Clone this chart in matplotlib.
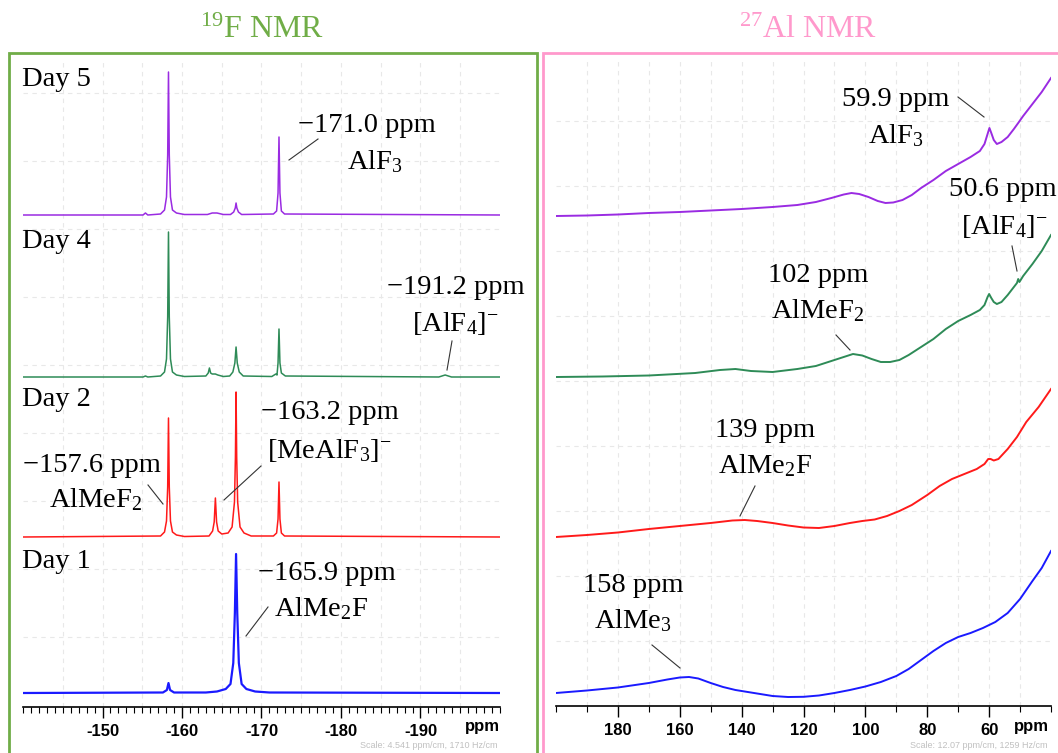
import matplotlib.pyplot as plt
from matplotlib.lines import Line2D
from matplotlib.patches import Rectangle
from matplotlib.ticker import MultipleLocator

plt.rcParams['font.family'] = ['Liberation Serif', 'DejaVu Serif']
plt.rcParams['mathtext.fontset'] = 'custom'
plt.rcParams['mathtext.rm'] = 'Liberation Serif'
plt.rcParams['mathtext.it'] = 'Liberation Serif:italic'
plt.rcParams['axes.unicode_minus'] = False

# ---- 19F spectra (ppm, intensity above each trace's baseline) ----
f_day5_ppm = [-140, -155.1, -155.4, -155.7, -157.3, -157.8, -158.05, -158.2, -158.3, -158.4, -158.55,
              -158.8, -159.3, -160.3, -163.2, -163.8, -164.4, -165.2, -166.1, -166.5, -166.7, -166.8,
              -166.9, -167.1, -167.5, -171.5, -171.9, -172.08, -172.2, -172.32, -172.5, -172.9, -200]
f_day5_int = [0, 0, 2, 0, 1, 5, 18, 60, 143, 60, 18,
              5, 2, 0.5, 0.5, 2, 2, 0.5, 0.5, 3, 7, 12,
              7, 3, 0.5, 1, 4, 22, 78, 22, 4, 1, 0]

f_day4_ppm = [-140, -155.1, -155.4, -155.7, -157.3, -157.8, -158.05, -158.2, -158.3, -158.4, -158.55,
              -158.8, -159.3, -160.3, -163.0, -163.3, -163.45, -163.6, -163.8, -164.2, -164.5, -165.2,
              -166.0, -166.4, -166.65, -166.8, -166.95, -167.2, -167.7, -171.3, -171.6, -171.8,
              -171.95, -172.08, -172.2, -172.32, -172.5, -173.0, -192.3, -193.1, -193.9, -200]
f_day4_int = [0, 0, 1, 0, 1, 5, 18, 60, 145, 60, 18,
              5, 2, 0.5, 1, 4, 9, 4, 3, 3, 2, 0.5,
              1, 5, 14, 30, 14, 5, 1, 0.5, 2, 3,
              2, 14, 48, 14, 4, 1, 0, 2, 0, 0]

f_day2_ppm = [-140, -157.3, -157.8, -158.05, -158.2, -158.3, -158.4, -158.55, -158.8, -159.3, -160.3,
              -163.4, -163.85, -164.05, -164.2, -164.35, -164.55, -165.0, -165.8, -166.3, -166.6,
              -166.72, -166.8, -166.88, -167.0, -167.3, -167.8, -168.7, -171.5, -171.9, -172.08,
              -172.2, -172.32, -172.5, -172.9, -200]
f_day2_int = [0, 1, 5, 16, 50, 119, 50, 16, 5, 2, 0.5,
              1, 6, 15, 39, 15, 6, 3, 4, 10, 35,
              80, 145, 80, 35, 10, 4, 1, 1, 4, 18,
              55, 18, 4, 1, 0]

f_day1_ppm = [-140, -157.6, -158.1, -158.3, -158.5, -159.0, -163.0, -164.4, -165.5, -166.1, -166.45,
              -166.65, -166.8, -166.95, -167.15, -167.5, -168.1, -169.2, -171.0, -200]
f_day1_int = [0, 0.5, 3, 10, 3, 0.5, 0.5, 1.5, 4, 9, 30,
              80, 139, 80, 30, 9, 4, 1.5, 0.5, 0]

# ---- 27Al spectra ----
al_day5_ppm = [200, 190, 180, 170, 160, 150, 140, 130, 122, 116, 111, 107, 104.5, 102, 99, 96, 93.5,
               91, 88, 85, 82, 78, 74, 70, 66, 63, 61.5, 60.5, 59.9, 59.3, 58.5, 57.5, 56, 54, 52,
               50.6, 49, 46, 43, 40]
al_day5_int = [0, 0.5, 1.5, 3, 4, 5.5, 7, 9, 11, 14, 18, 21.5, 23, 22, 19, 15, 13,
               13.5, 16, 21, 28, 36, 45, 52, 59, 65, 72, 82, 88, 83, 76, 72, 74, 79, 87,
               93, 100, 112, 124, 138]

al_day4_ppm = [200, 185, 170, 155, 147, 142, 137, 130, 122, 116, 111, 107, 104, 101, 98, 95, 92, 89,
               86, 82, 78, 74, 70, 66, 63, 61.5, 60.5, 60, 59.3, 58.5, 57.5, 56, 54, 52, 51, 50.6,
               50.2, 49, 46, 43, 40]
al_day4_int = [0, 0.5, 1.5, 4, 7, 8, 6, 5, 8, 11, 16, 20, 23, 21.5, 18, 15, 15, 17,
               22, 30, 38, 48, 56, 62, 67, 72, 80, 83, 79, 75, 73, 75, 82, 90, 94, 98,
               95, 101, 113, 126, 142]

al_day2_ppm = [200, 190, 180, 170, 160, 150, 143, 139, 135, 130, 125, 120, 115, 110, 105, 101, 97,
               93, 89, 85, 80, 76, 72, 68, 64, 61.5, 60.3, 59.5, 58.5, 57, 54, 51, 48, 44, 40]
al_day2_int = [0, 2, 4.5, 8, 11, 14, 16.5, 17, 16, 14, 11.5, 9.5, 9, 11, 14, 16, 17.5,
               21, 26, 32, 42, 51, 58, 63, 68, 73, 78, 78, 76.5, 78, 88, 100, 115, 130, 148]

al_day1_ppm = [200, 190, 180, 170, 164, 160, 157, 154, 150, 146, 142, 137, 130, 125, 120, 115, 110,
               105, 100, 95, 90, 86, 82, 78, 74, 70, 66, 62, 58, 54, 50, 46, 43, 40]
al_day1_int = [0, 2.5, 5.5, 10, 13.5, 15.5, 16, 14.5, 10, 6, 3, 0.5, -3, -4, -3.8, -2.5, 0,
               3, 6.5, 11, 17, 24, 33, 42, 50, 56, 60, 65, 71, 80, 94, 112, 125, 142]

day_labels = ['Day 5', 'Day 4', 'Day 2', 'Day 1']
colors = ['#9a2be2', '#2e8b57', '#ff1a1a', '#1a1aff']

W, H = 1058, 753
fig = plt.figure(figsize=(W / 100, H / 100), dpi=100)


def fx(x, y):
    return x / W, 1 - y / H


def note(x, y, s, size=20.5):
    fig.text(*fx(x, y), s, fontsize=size, ha='center', va='center')


def seg(x0, y0, x1, y1):
    fig.add_artist(Line2D([x0 / W, x1 / W], [1 - y0 / H, 1 - y1 / H], color='#333333', lw=0.8))


# panel frames
fig.add_artist(Rectangle(fx(9, 760), 528 / W, 707 / H, fill=False, ec='#70ad47', lw=2))
fig.add_artist(Rectangle(fx(543, 760), 530 / W, 707 / H, fill=False, ec='#ff99cc', lw=2))
fig.text(*fx(262, 30), r'$^{19}$F NMR', color='#70ad47', fontsize=23, ha='center', va='center')
fig.text(*fx(808, 30), r'$^{27}$Al NMR', color='#ff99cc', fontsize=23, ha='center', va='center')


def setup(ax, major, minor, ticks, grid_x, grid_y):
    for s in ['left', 'right', 'top']:
        ax.spines[s].set_visible(False)
    ax.spines['bottom'].set_linewidth(1.2)
    ax.xaxis.set_major_locator(MultipleLocator(major))
    ax.xaxis.set_minor_locator(MultipleLocator(minor))
    ax.set_xticks(ticks)
    ax.set_xticklabels([str(t) for t in ticks], fontfamily='Liberation Sans', fontweight='bold')
    ax.tick_params(axis='x', which='major', length=8, width=1, labelsize=12, pad=4)
    ax.tick_params(axis='x', which='minor', length=4, width=0.8)
    ax.set_yticks(grid_y)
    ax.tick_params(axis='y', length=0, labelleft=False)
    ax.grid(True, which='major', axis='y', color='#e8e8e8', ls=(0, (4, 4)), lw=0.8)
    for g in grid_x:
        ax.axvline(g, color='#e8e8e8', ls=(0, (4, 4)), lw=0.8, zorder=0)
    ax.set_facecolor('none')


# ---- left: 19F ----
axl = fig.add_axes([23 / W, 46 / H, 477 / W, 647 / H])
f_ppm = [f_day5_ppm, f_day4_ppm, f_day2_ppm, f_day1_ppm]
f_int = [f_day5_int, f_day4_int, f_day2_int, f_day1_int]
f_base = [492, 330, 170, 14]
for p, v, b, c in zip(f_ppm, f_int, f_base, colors):
    axl.plot(p, [b + i for i in v], color=c, lw=1.6 if c == '#1a1aff' else 1.1)
axl.set_xlim(-140, -200)
axl.set_ylim(0, 647)
setup(axl, 10, 1, [-150, -160, -170, -180, -190], range(-145, -200, -5),
      [70, 138, 206, 274, 342, 410, 478, 546, 614])
fig.text(*fx(482, 727), 'ppm', fontfamily='Liberation Sans', fontweight='bold', fontsize=12,
         ha='center', va='center')
fig.text(*fx(497, 745), 'Scale: 4.541 ppm/cm, 1710 Hz/cm', fontfamily='Liberation Sans',
         fontsize=6.5, color='#c0c0c0', ha='right', va='center')

for lab, y in zip(day_labels, [80, 242, 399, 562]):
    fig.text(*fx(22, y), lab, fontsize=20.5, ha='left', va='center')

note(367, 125, '\u2212171.0 ppm')
note(375, 162, r'AlF$_\mathrm{3}$')
seg(289, 160, 318, 139)
note(456, 287, '\u2212191.2 ppm')
note(455, 323, r'[AlF$_\mathrm{4}$]$^\mathrm{-}$')
seg(447, 370, 452, 341)
note(330, 413, '\u2212163.2 ppm')
note(329, 450, r'[MeAlF$_\mathrm{3}$]$^\mathrm{-}$')
seg(224, 500, 261, 466)
note(92, 466, '\u2212157.6 ppm')
note(96, 500, r'AlMeF$_\mathrm{2}$')
seg(148, 485, 163, 504)
note(327, 573, '\u2212165.9 ppm')
note(321, 609, r'AlMe$_\mathrm{2}$F')
seg(246, 636, 268, 607)

# ---- right: 27Al ----
axr = fig.add_axes([556 / W, 47 / H, 495 / W, 646 / H])
al_ppm = [al_day5_ppm, al_day4_ppm, al_day2_ppm, al_day1_ppm]
al_int = [al_day5_int, al_day4_int, al_day2_int, al_day1_int]
al_base = [490, 329, 169, 13]
for p, v, b, c in zip(al_ppm, al_int, al_base, colors):
    axr.plot(p, [b + i for i in v], color=c, lw=1.4)
axr.set_xlim(200, 40)
axr.set_ylim(0, 646)
setup(axr, 20, 10, [180, 160, 140, 120, 100, 80, 60], range(190, 40, -10),
      [65, 130, 195, 260, 325, 390, 455, 520, 585])
fig.text(*fx(1031, 727), 'ppm', fontfamily='Liberation Sans', fontweight='bold', fontsize=12,
         ha='center', va='center')
fig.text(*fx(1047, 745), 'Scale: 12.07 ppm/cm, 1259 Hz/cm', fontfamily='Liberation Sans',
         fontsize=6.5, color='#c0c0c0', ha='right', va='center')

note(896, 100, '59.9 ppm')
note(896, 136, r'AlF$_\mathrm{3}$')
seg(958, 97, 984, 117)
note(1003, 190, '50.6 ppm')
note(1004, 226, r'[AlF$_\mathrm{4}$]$^\mathrm{-}$')
seg(1012, 246, 1017, 271)
note(818, 275, '102 ppm')
note(818, 311, r'AlMeF$_\mathrm{2}$')
seg(836, 335, 850, 350)
note(765, 430, '139 ppm')
note(765, 466, r'AlMe$_\mathrm{2}$F')
seg(755, 486, 740, 516)
note(633, 585, '158 ppm')
note(633, 621, r'AlMe$_\mathrm{3}$')
seg(652, 645, 680, 668)

fig.savefig('out.png', dpi=100)
